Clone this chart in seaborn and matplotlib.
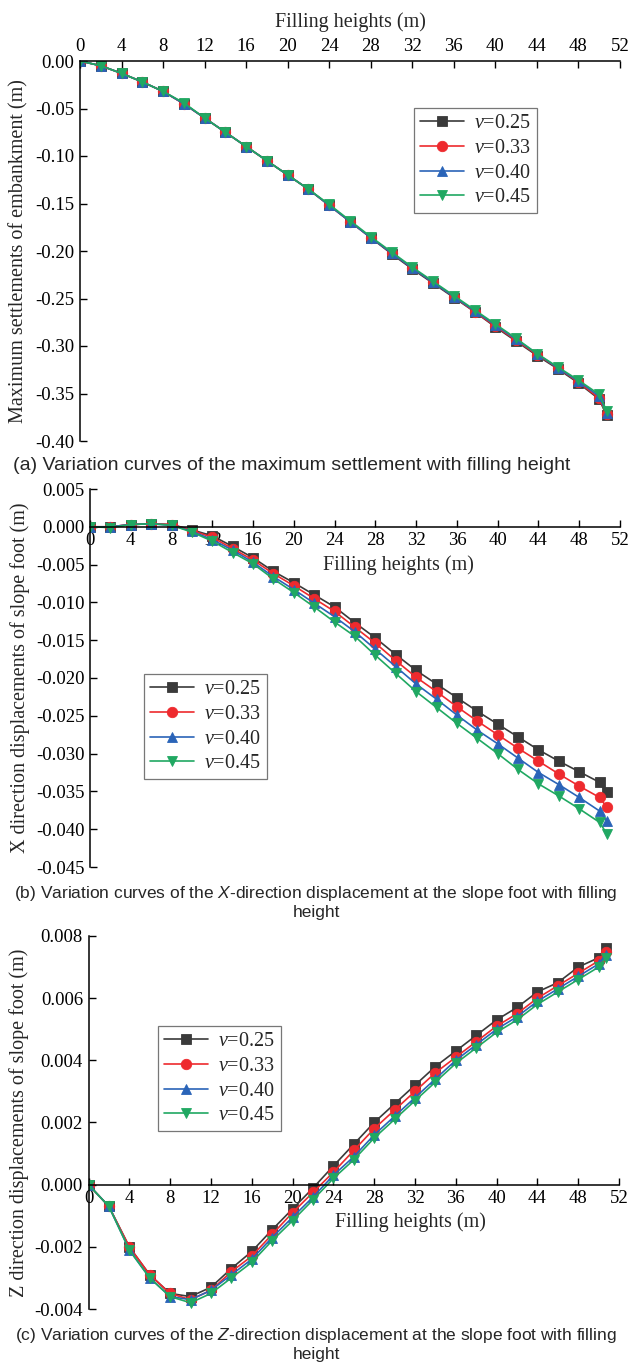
import numpy as np
import pandas as pd
import matplotlib
matplotlib.use("Agg")
import matplotlib.pyplot as plt
import seaborn as sns

# filling heights (m), last step is slightly past 50 m
heights = [0, 2, 4, 6, 8, 10, 12, 14, 16, 18, 20, 22, 24, 26, 28, 30,
           32, 34, 36, 38, 40, 42, 44, 46, 48, 50, 50.7]
nu_labels = ["0.25", "0.33", "0.40", "0.45"]

# (a) maximum settlement of embankment (m)
settle_025 = [0, -0.005, -0.013, -0.022, -0.032, -0.045, -0.060, -0.075, -0.090, -0.105, -0.120, -0.135, -0.152, -0.169,
              -0.186, -0.203, -0.219, -0.234, -0.249, -0.264, -0.280, -0.295, -0.310, -0.324, -0.339, -0.356, -0.373]
settle_033 = [0, -0.005, -0.013, -0.022, -0.032, -0.045, -0.060, -0.075, -0.090, -0.105, -0.120, -0.135, -0.152, -0.169,
              -0.186, -0.202, -0.218, -0.233, -0.248, -0.264, -0.279, -0.294, -0.309, -0.323, -0.338, -0.355, -0.372]
settle_040 = [0, -0.005, -0.013, -0.022, -0.032, -0.045, -0.060, -0.075, -0.090, -0.105, -0.120, -0.135, -0.152, -0.169,
              -0.186, -0.202, -0.218, -0.233, -0.248, -0.263, -0.278, -0.293, -0.308, -0.323, -0.337, -0.353, -0.370]
settle_045 = [0, -0.005, -0.013, -0.022, -0.032, -0.044, -0.060, -0.075, -0.090, -0.105, -0.120, -0.135, -0.151, -0.168,
              -0.185, -0.201, -0.217, -0.232, -0.247, -0.262, -0.277, -0.292, -0.308, -0.322, -0.336, -0.351, -0.368]

# (b) X direction displacement of slope foot (m)
xdisp_025 = [0, 0.0000, 0.0003, 0.0004, 0.0003, -0.0004, -0.0012, -0.0026, -0.0041, -0.0059, -0.0074, -0.0090, -0.0106,
             -0.0127, -0.0147, -0.0169, -0.0190, -0.0208, -0.0226, -0.0244, -0.0261, -0.0278, -0.0295, -0.0310, -0.0324,
             -0.0338, -0.0351]
xdisp_033 = [0, 0.0000, 0.0003, 0.0004, 0.0003, -0.0005, -0.0014, -0.0029, -0.0044, -0.0062, -0.0078, -0.0095, -0.0112,
             -0.0133, -0.0154, -0.0177, -0.0199, -0.0218, -0.0238, -0.0257, -0.0275, -0.0293, -0.0310, -0.0327, -0.0343,
             -0.0358, -0.0371]
xdisp_040 = [0, 0.0000, 0.0003, 0.0004, 0.0002, -0.0006, -0.0017, -0.0031, -0.0047, -0.0066, -0.0083, -0.0101, -0.0119,
             -0.0139, -0.0162, -0.0185, -0.0208, -0.0228, -0.0249, -0.0269, -0.0287, -0.0306, -0.0325, -0.0341, -0.0358,
             -0.0376, -0.0389]
xdisp_045 = [0, -0.0001, 0.0003, 0.0004, 0.0002, -0.0007, -0.0019, -0.0034, -0.0049, -0.0069, -0.0087, -0.0106, -0.0126,
             -0.0145, -0.0170, -0.0194, -0.0218, -0.0239, -0.0260, -0.0280, -0.0300, -0.0321, -0.0340, -0.0356, -0.0373,
             -0.0391, -0.0406]

# (c) Z direction displacement of slope foot (m)
zdisp_025 = [0, -0.0007, -0.0020, -0.0029, -0.0035, -0.0036, -0.0033, -0.0027, -0.00215, -0.00145, -0.00078, -0.00011,
             0.0006, 0.0013, 0.0020, 0.0026, 0.0032, 0.0038, 0.0043, 0.0048, 0.0053, 0.0057, 0.0062, 0.0065, 0.0070,
             0.0073, 0.0076]
zdisp_033 = [0, -0.0007, -0.0020, -0.0029, -0.0035, -0.0037, -0.0034, -0.0028, -0.0023, -0.0016, -0.0009, -0.00025,
             0.0004, 0.0011, 0.0018, 0.0024, 0.0030, 0.0036, 0.0041, 0.0046, 0.0051, 0.0055, 0.0060, 0.0064, 0.0068,
             0.0072, 0.0075]
zdisp_040 = [0, -0.0007, -0.0021, -0.0030, -0.0036, -0.0037, -0.0034, -0.0029, -0.0024, -0.0017, -0.00105, -0.0004,
             0.0003, 0.0009, 0.0016, 0.0022, 0.0028, 0.0034, 0.0040, 0.0045, 0.0050, 0.0054, 0.0059, 0.0063, 0.0067,
             0.0071, 0.0074]
zdisp_045 = [0, -0.0007, -0.0021, -0.0030, -0.0036, -0.0038, -0.0035, -0.0030, -0.0025, -0.0018, -0.00116, -0.00049,
             0.0002, 0.0008, 0.0015, 0.0021, 0.0027, 0.0033, 0.0039, 0.0044, 0.0049, 0.0053, 0.0058, 0.0062, 0.0066,
             0.0070, 0.0073]

colors = ["#3a3a3a", "#ee2a2e", "#2a64b8", "#20a862"]
markers = ["s", "o", "^", "v"]

sns.set_theme(style="ticks")
plt.rcParams["font.family"] = ["Liberation Serif", "DejaVu Serif"]
plt.rcParams["axes.unicode_minus"] = False
plt.rcParams["mathtext.fontset"] = "custom"
plt.rcParams["mathtext.it"] = "Liberation Serif:italic"
plt.rcParams["mathtext.rm"] = "Liberation Serif"
plt.rcParams["mathtext.sf"] = "Liberation Sans:italic"

fig = plt.figure(figsize=(6.3, 13.67), dpi=100)
W, H = 630, 1367
LAB = 14.5


def add_axes(left, right, top, bottom):
    ax = fig.add_axes([left / W, 1 - bottom / H, (right - left) / W, (bottom - top) / H])
    ax.box_px = (left, right, top, bottom)
    return ax


def draw_series(ax, series):
    for vals, lab, c, m in zip(series, nu_labels, colors, markers):
        df = pd.DataFrame({"h": heights, "v": vals})
        sns.lineplot(data=df, x="h", y="v", ax=ax, color=c, marker=m, markersize=7.5,
                     markeredgecolor=c, markeredgewidth=0.6, linewidth=1.2,
                     label=r"$\nu$=" + lab, sort=False)


def style_axes(ax, ylim, yticks, fmt):
    ax.set_xlim(0, 52)
    ax.set_xticks(np.arange(0, 53, 4))
    ax.set_ylim(*ylim)
    ax.set_yticks(yticks)
    ax.set_yticklabels([fmt % (t + 0.0) if abs(t) > 1e-9 else fmt % 0.0 for t in yticks])
    ax.tick_params(direction="in", length=5, width=1, labelsize=13.5, colors="black", pad=4)
    for sp in ax.spines.values():
        sp.set_linewidth(1.1)
        sp.set_color("black")
    ax.spines["right"].set_visible(False)


def place_ylabel(ax, text, x_px):
    # x_px is the right edge of the rotated label
    left, right, top, bottom = ax.box_px
    ax.set_ylabel(text, fontsize=LAB)
    ax.yaxis.set_label_coords((x_px - left) / (right - left), 0.5)


def add_legend(ax, x0, y0):
    leg = ax.legend(loc="upper left", bbox_to_anchor=(x0 / W, 1 - y0 / H), bbox_transform=fig.transFigure,
                    fontsize=14.5, frameon=True, fancybox=False, handlelength=2.2, handletextpad=0.5,
                    labelspacing=0.28, borderpad=0.3, borderaxespad=0)
    leg.get_frame().set_edgecolor("#555555")
    leg.get_frame().set_linewidth(0.9)


cap_font = dict(family=["Liberation Sans Narrow", "Liberation Sans"], ha="center", va="center")

# (a)
ax1 = add_axes(80, 620, 61, 441)
draw_series(ax1, [settle_025, settle_033, settle_040, settle_045])
style_axes(ax1, (-0.40, 0.0), np.round(np.arange(-0.40, 0.001, 0.05), 2), "%.2f")
ax1.spines["bottom"].set_visible(False)
ax1.xaxis.tick_top()
ax1.xaxis.set_label_position("top")
ax1.set_xlabel("Filling heights (m)", fontsize=LAB)
ax1.xaxis.set_label_coords(0.5, 1 + (61 - 27) / 380)
place_ylabel(ax1, "Maximum settlements of embankment (m)", 28)
add_legend(ax1, 414, 108)
fig.text(292 / W, 1 - 466 / H, "(a) Variation curves of the maximum settlement with filling height",
         fontsize=14, **cap_font)

# (b)
ax2 = add_axes(90, 620, 489, 867)
draw_series(ax2, [xdisp_025, xdisp_033, xdisp_040, xdisp_045])
style_axes(ax2, (-0.045, 0.005), np.round(np.arange(-0.045, 0.0051, 0.005), 3), "%.3f")
ax2.spines["bottom"].set_position(("data", 0))
ax2.spines["top"].set_visible(False)
ax2.set_xlabel("")
place_ylabel(ax2, "X direction displacements of slope foot (m)", 30)
ax2.text(398 / W, 1 - 565 / H, "Filling heights (m)", transform=fig.transFigure, fontsize=LAB,
         ha="center", va="center")
add_legend(ax2, 144, 674)
fig.text(316 / W, 1 - 902 / H,
         "(b) Variation curves of the $\\mathsf{X}$-direction displacement at the slope foot with filling\nheight",
         fontsize=12.5, linespacing=1.15, **cap_font)

# (c)
ax3 = add_axes(88.5, 619, 936, 1309)
draw_series(ax3, [zdisp_025, zdisp_033, zdisp_040, zdisp_045])
style_axes(ax3, (-0.004, 0.008), np.round(np.arange(-0.004, 0.0081, 0.002), 3), "%.3f")
ax3.spines["bottom"].set_position(("data", 0))
ax3.spines["top"].set_visible(False)
ax3.set_xlabel("")
place_ylabel(ax3, "Z direction displacements of slope foot (m)", 29)
ax3.text(410 / W, 1 - 1222 / H, "Filling heights (m)", transform=fig.transFigure, fontsize=LAB,
         ha="center", va="center")
add_legend(ax3, 158, 1026)
fig.text(316 / W, 1 - 1344 / H,
         "(c) Variation curves of the $\\mathsf{Z}$-direction displacement at the slope foot with filling\nheight",
         fontsize=12.5, linespacing=1.15, **cap_font)

fig.savefig("out.png", dpi=100, facecolor="white")
